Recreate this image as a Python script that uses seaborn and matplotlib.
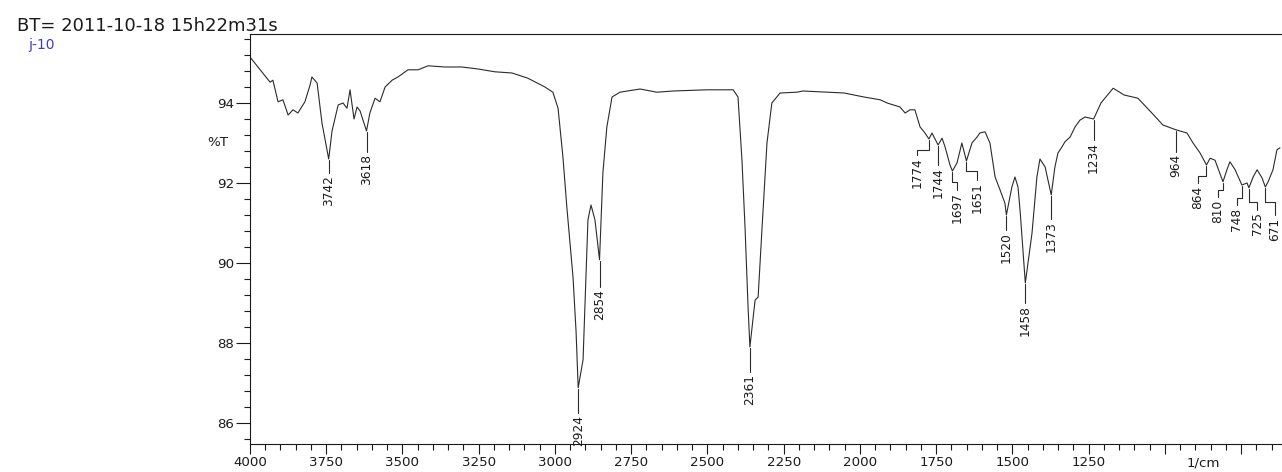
import numpy as np
import pandas as pd
import matplotlib
matplotlib.use("Agg")
import matplotlib.pyplot as plt
import seaborn as sns

# ---------------- data ----------------
wavenumber = [4000, 3974, 3934, 3925, 3908, 3892, 3875, 3859, 3843, 3820, 3803, 3797, 3780, 3764,
              3742, 3731, 3711, 3695, 3682, 3672, 3659, 3649, 3639, 3618, 3607, 3590, 3574, 3557,
              3534, 3515, 3482, 3449, 3416, 3361, 3305, 3252, 3197, 3141, 3089, 3033, 3007, 2990,
              2974, 2961, 2941, 2931, 2924, 2908, 2892, 2882, 2869, 2854, 2843, 2830, 2813, 2787,
              2721, 2666, 2613, 2502, 2416, 2400, 2387, 2377, 2367, 2361, 2344, 2334, 2321, 2305,
              2289, 2262, 2207, 2187, 2052, 1987, 1934, 1911, 1869, 1852, 1836, 1820, 1803, 1787,
              1774, 1764, 1744, 1731, 1721, 1705, 1697, 1682, 1666, 1651, 1633, 1616, 1607, 1590,
              1574, 1557, 1541, 1525, 1520, 1502, 1492, 1482, 1475, 1458, 1436, 1420, 1410, 1393,
              1373, 1361, 1351, 1338, 1328, 1311, 1295, 1279, 1262, 1234, 1210, 1170, 1134, 1089,
              1043, 1007, 964, 928, 908, 885, 864, 852, 836, 810, 797, 787, 770, 748, 731, 725,
              711, 698, 682, 671, 662, 646, 633, 623]
transmittance = [95.15, 94.9, 94.52, 94.57, 94.03, 94.08, 93.7, 93.83, 93.75, 94.03, 94.45, 94.65, 94.5, 93.5,
                 92.6, 93.3, 93.95, 94.0, 93.87, 94.33, 93.6, 93.9, 93.8, 93.3, 93.75, 94.12, 94.03, 94.4,
                 94.57, 94.65, 94.83, 94.83, 94.93, 94.9, 94.9, 94.85, 94.78, 94.75, 94.62, 94.4, 94.27, 93.87,
                 92.65, 91.38, 89.65, 88.3, 86.88, 87.58, 91.08, 91.45, 91.08, 90.08, 92.25, 93.4, 94.15, 94.27,
                 94.35, 94.27, 94.3, 94.33, 94.33, 94.15, 92.57, 90.9, 88.9, 87.9, 89.07, 89.15, 90.9, 93.0,
                 94.0, 94.25, 94.27, 94.3, 94.25, 94.15, 94.08, 94.0, 93.9, 93.75, 93.83, 93.83, 93.4, 93.25,
                 93.1, 93.25, 92.95, 93.12, 92.9, 92.45, 92.3, 92.5, 93.0, 92.55, 93.0, 93.15, 93.25, 93.28,
                 93.0, 92.15, 91.83, 91.5, 91.2, 91.9, 92.15, 91.9, 91.3, 89.5, 90.75, 92.15, 92.6, 92.4,
                 91.7, 92.4, 92.75, 92.9, 93.03, 93.15, 93.4, 93.57, 93.65, 93.6, 94.0, 94.37, 94.2, 94.12,
                 93.75, 93.45, 93.33, 93.25, 93.0, 92.75, 92.45, 92.62, 92.57, 92.03, 92.33, 92.53, 92.33, 91.95, 92.0, 91.88,
                 92.15, 92.33, 92.13, 91.9, 92.03, 92.33, 92.83, 92.88]

peak_labels = ['3742', '3618', '2924', '2854', '2361', '1774', '1744', '1697', '1651',
               '1520', '1458', '1373', '1234', '964', '864', '810', '748', '725', '671']
peak_wn = [3742, 3618, 2924, 2854, 2361, 1774, 1744, 1697, 1651,
           1520, 1458, 1373, 1234, 964, 864, 810, 748, 725, 671]

x_major_ticks = [4000, 3750, 3500, 3250, 3000, 2750, 2500, 2250, 2000, 1750, 1500, 1250, 1000, 750]
x_tick_labels = ['4000', '3750', '3500', '3250', '3000', '2750', '2500', '2250', '2000', '1750',
                 '1500', '1250', '', '']
y_major_ticks = [86, 88, 90, 92, 94]
y_tick_labels = ['86', '88', '90', '92', '94']

# ---------------- layout of the peak annotations ----------------
label_x = [3742, 3618, 2924, 2854, 2361, 1813, 1744, 1682, 1616,
           1520, 1458, 1373, 1234, 964, 892, 826, 764, 698, 639]
elbow_T = [None, None, None, None, None, 92.83, None, 92.03, 92.3,
           None, None, None, None, None, 92.17, 91.83, 91.63, 91.53, 91.53]
text_T = [92.25, 92.78, 86.25, 89.4, 87.28, 92.7, 92.45, 91.83, 92.07,
          90.83, 89.0, 91.1, 93.08, 92.78, 92.0, 91.65, 91.45, 91.33, 91.2]

# ---------------- figure ----------------
sns.set_theme(style="ticks")
plt.rcParams['font.family'] = ['DejaVu Sans']
plt.rcParams['axes.linewidth'] = 0.8

W, H = 1282, 472
fig = plt.figure(figsize=(W / 100, H / 100), dpi=100, facecolor='white')
ax_left, ax_right, ax_top, ax_bottom = 250, 1282, 34, 444
ax = fig.add_axes([ax_left / W, (H - ax_bottom) / H, (ax_right - ax_left) / W, (ax_bottom - ax_top) / H])
ax.set_facecolor('white')

df = pd.DataFrame({'wn': wavenumber, 'T': transmittance})
line_col = '#2b2b2b'
sns.lineplot(data=df, x='wn', y='T', ax=ax, color=line_col, linewidth=0.8,
             estimator=None, sort=False)

px_per_cm = 0.305
ax.set_xlim(4000, 4000 - (ax_right - ax_left) / px_per_cm)
ax.set_ylim(94 - (ax_bottom - 103) / 40, 94 + (103 - ax_top) / 40)

ax.set_xticks(x_major_ticks)
ax.set_xticklabels(x_tick_labels)
ax.set_xticks(np.arange(4000, 600, -50), minor=True)
ax.set_yticks(y_major_ticks)
ax.set_yticklabels(y_tick_labels)
ax.set_yticks(np.arange(85.6, 95.7, 0.4), minor=True)

ax.tick_params(axis='x', which='major', length=7.2, width=0.8, pad=1.5, labelsize=9.6, colors='#1a1a1a')
ax.tick_params(axis='x', which='minor', length=4.5, width=0.8, colors='#1a1a1a')
ax.tick_params(axis='y', which='major', length=10, width=0.8, pad=1.5, labelsize=9.6, colors='#1a1a1a')
ax.tick_params(axis='y', which='minor', length=4, width=0.8, colors='#1a1a1a')

for s in ['left', 'bottom', 'top']:
    ax.spines[s].set_visible(True)
    ax.spines[s].set_color('#1a1a1a')
ax.spines['right'].set_visible(False)
ax.set_xlabel('')
ax.set_ylabel('%T', rotation=0, fontsize=9.6, color='#1a1a1a', ha='right', va='center')
ax.yaxis.set_label_coords(-(ax_left - 228) / (ax_right - ax_left),
                          (93.0 - ax.get_ylim()[0]) / (ax.get_ylim()[1] - ax.get_ylim()[0]))

ax.annotate('1/cm', xy=(875, 0), xycoords=('data', 'axes fraction'),
            xytext=(0, -12), textcoords='offset pixels', ha='center', va='top',
            fontsize=9.6, color='#1a1a1a')

# peak annotations
wn_sorted = np.array(wavenumber)[::-1]
T_sorted = np.array(transmittance)[::-1]
for lab, pw, lx, eT, tT in zip(peak_labels, peak_wn, label_x, elbow_T, text_T):
    tp = np.interp(pw, wn_sorted, T_sorted)
    if eT is None:
        xs, ys = [pw, pw], [tp - 0.03, tT]
    else:
        xs, ys = [pw, pw, lx, lx], [tp - 0.03, eT, eT, tT]
    ax.plot(xs, ys, color=line_col, linewidth=0.8)
    ax.text(lx, tT - 0.06, lab, rotation=90, ha='center', va='top', fontsize=8.7, color='#1a1a1a')

# header texts
fig.text(17 / W, 1 - 31 / H, 'BT= 2011-10-18 15h22m31s', fontsize=13, va='baseline',
         ha='left', color='#1a1a1a')
fig.text(28 / W, 1 - 49 / H, 'j-10', fontsize=10, va='baseline', ha='left', color='#3c3cc8')

fig.savefig('out.png', dpi=100, facecolor='white')
